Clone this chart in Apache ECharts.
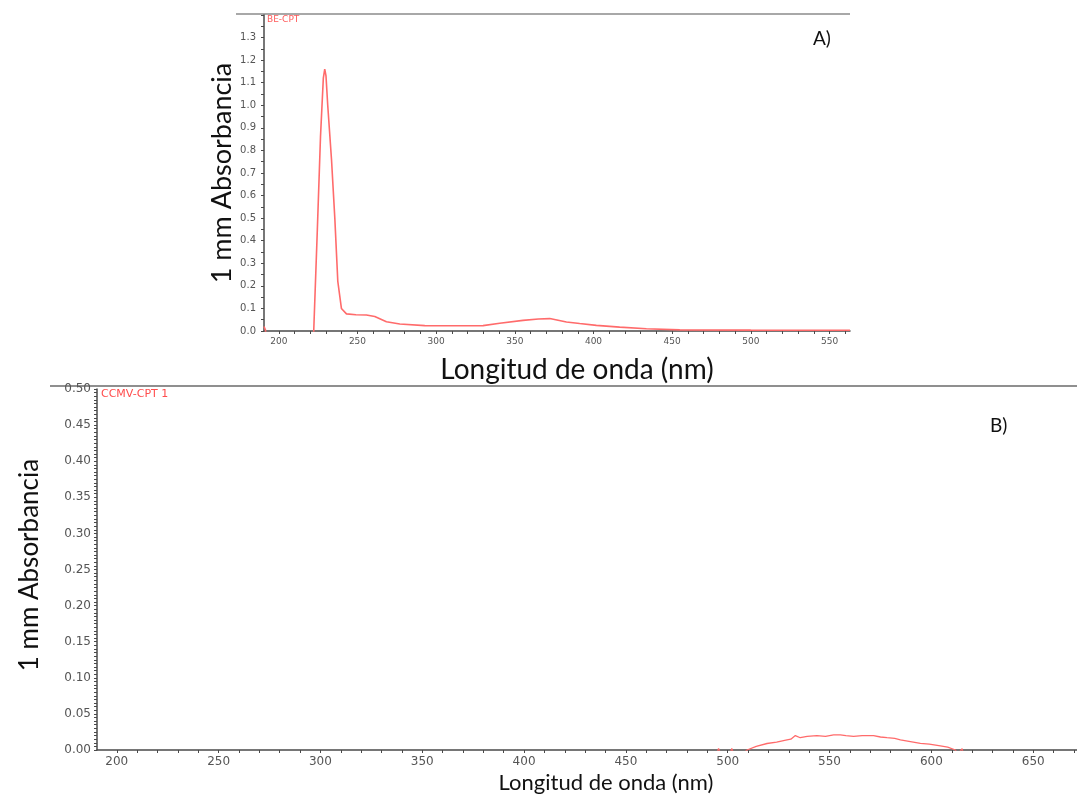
<!DOCTYPE html>
<html>
<head>
<meta charset="utf-8">
<script src="https://cdn.jsdelivr.net/npm/echarts@6/dist/echarts.min.js"></script>
<style>
  html, body { margin: 0; padding: 0; background: #fff; }
  #chart { width: 1077px; height: 795px; }
</style>
</head>
<body>
<div id="chart"></div>
<script>
// spectrum A (BE-CPT), wavelength in nm / absorbance
const wavelengthA = [190.6, 191.5, 192.5, 222.0, 222.2, 224.5, 226.5, 228.3, 229.2, 230.0, 231.1, 233.5, 235.6, 237.5, 239.8, 243.0,
  249.0, 255.7, 261.0, 268.4, 276.9, 292.8, 310.0, 329.8, 340.4, 355.2, 365.0, 372.2, 382.8, 391.2, 401.8, 416.6, 433.6, 454.8, 500.0, 563.0];
const absorbA = [0.02, 0.005, -0.05, -0.05, 0.0, 0.45, 0.86, 1.12, 1.16, 1.13, 1.0, 0.76, 0.5, 0.22, 0.10, 0.076,
  0.072, 0.071, 0.064, 0.041, 0.031, 0.024, 0.023, 0.024, 0.034, 0.047, 0.053, 0.055, 0.040, 0.033, 0.025, 0.017, 0.010, 0.005, 0.004, 0.003];

// spectrum B (CCMV-CPT 1)
const wavelengthB = [190.3, 494.0, 495.5, 497.0, 501.0, 502.0, 503.0, 508.0, 509.5, 514.0, 519.3, 524.0, 529.1, 531.0, 533.2, 535.6,
  539.0, 543.8, 548.0, 552.0, 555.3, 558.0, 561.8, 566.0, 571.6, 575.0, 578.2, 582.0, 584.8, 589.0, 594.6, 599.0, 604.4, 608.0,
  611.8, 613.0, 615.1, 616.0, 671.5];
const absorbB = [-0.02, -0.01, 0.002, -0.008, -0.006, 0.002, -0.006, -0.004, 0.0, 0.005, 0.009, 0.011, 0.014, 0.015, 0.020, 0.017,
  0.019, 0.020, 0.019, 0.021, 0.021, 0.020, 0.019, 0.020, 0.020, 0.018, 0.017, 0.016, 0.014, 0.012, 0.0093, 0.008, 0.0056, 0.004,
  0.0, -0.006, 0.002, -0.01, -0.02];

// tick labels
const xLabelsA = [200, 250, 300, 350, 400, 450, 500, 550];
const yLabelsA = [0, 0.1, 0.2, 0.3, 0.4, 0.5, 0.6, 0.7, 0.8, 0.9, 1.0, 1.1, 1.2, 1.3];
const xLabelsB = [200, 250, 300, 350, 400, 450, 500, 550, 600, 650];
const yLabelsB = [0, 0.05, 0.1, 0.15, 0.2, 0.25, 0.3, 0.35, 0.4, 0.45, 0.5];

const zip = (xs, ys) => xs.map((x, i) => [x, ys[i]]);
const steps = (a, b, s) => { const out = []; for (let v = a; v <= b + 1e-9; v += s) out.push(+v.toFixed(4)); return out; };

const axisColor = '#4a4a4a';
const labelColor = '#555';
const red = '#ff6b6b';

const chart = echarts.init(document.getElementById('chart'));
chart.setOption({
  backgroundColor: '#fff',
  animation: false,
  grid: [
    { left: 264, top: 15, right: 227, bottom: 464 },
    { left: 97, top: 389, right: 0, bottom: 45 }
  ],
  xAxis: [
    {
      gridIndex: 0, type: 'value', min: 190.6, max: 563,
      splitLine: { show: false },
      axisLine: { lineStyle: { color: axisColor, width: 1.5 } },
      axisTick: { length: 3, customValues: steps(200, 560, 10), lineStyle: { color: axisColor } },
      axisLabel: { customValues: xLabelsA, color: labelColor, fontSize: 9, fontFamily: 'DejaVu Sans', margin: 6 }
    },
    {
      gridIndex: 1, type: 'value', min: 190.3, max: 671.5,
      splitLine: { show: false },
      axisLine: { lineStyle: { color: axisColor, width: 1.5 } },
      axisTick: { length: 3, customValues: steps(200, 670, 10), lineStyle: { color: axisColor } },
      axisLabel: { customValues: xLabelsB, color: labelColor, fontSize: 12, fontFamily: 'DejaVu Sans', margin: 6 }
    }
  ],
  yAxis: [
    {
      gridIndex: 0, type: 'value', min: 0, max: 1.4,
      splitLine: { show: false },
      axisLine: { show: true, lineStyle: { color: axisColor, width: 1.5 } },
      axisTick: { show: true, length: 3, customValues: steps(0, 1.4, 0.05), lineStyle: { color: axisColor } },
      axisLabel: { customValues: yLabelsA, color: labelColor, fontSize: 10, fontFamily: 'DejaVu Sans', margin: 8,
        formatter: v => v.toFixed(1) }
    },
    {
      gridIndex: 1, type: 'value', min: 0, max: 0.5,
      splitLine: { show: false },
      axisLine: { show: true, lineStyle: { color: axisColor, width: 1.5 } },
      axisTick: { show: true, length: 3, customValues: steps(0, 0.5, 0.005), lineStyle: { color: axisColor } },
      axisLabel: { customValues: yLabelsB, color: labelColor, fontSize: 12, fontFamily: 'DejaVu Sans', margin: 6,
        formatter: v => v.toFixed(2) }
    }
  ],
  series: [
    {
      name: 'BE-CPT', type: 'line', xAxisIndex: 0, yAxisIndex: 0, symbol: 'none', clip: true,
      lineStyle: { color: red, width: 1.6 },
      data: zip(wavelengthA, absorbA)
    },
    {
      name: 'CCMV-CPT 1', type: 'line', xAxisIndex: 1, yAxisIndex: 1, symbol: 'none', clip: true,
      lineStyle: { color: red, width: 1.3 },
      data: zip(wavelengthB, absorbB)
    }
  ],
  graphic: [
    // window separators
    { type: 'line', shape: { x1: 236, y1: 14, x2: 850, y2: 14 }, style: { stroke: '#a8a8a8', lineWidth: 2 } },
    { type: 'line', shape: { x1: 50, y1: 386, x2: 1077, y2: 386 }, style: { stroke: '#8f8f8f', lineWidth: 2 } },
    // series tags
    { type: 'text', left: 267, top: 15, style: { text: 'BE-CPT', fill: '#ff5a5a', font: '9px "DejaVu Sans"' } },
    { type: 'text', left: 101, top: 389, style: { text: 'CCMV-CPT 1', fill: '#ff4d4d', font: '11px "DejaVu Sans"' } },
    // panel letters
    { type: 'text', left: 813, top: 29, style: { text: 'A)', fill: '#111', font: '19px Lato' } },
    { type: 'text', left: 990, top: 416, style: { text: 'B)', fill: '#111', font: '19px Lato' } },
    // axis titles
    { type: 'text', x: 577, y: 370, style: { text: 'Longitud de onda (nm)', fill: '#111', font: '28px Lato', align: 'center', verticalAlign: 'middle' } },
    { type: 'text', x: 222, y: 173, rotation: Math.PI / 2, style: { text: '1 mm Absorbancia', fill: '#111', font: '27px Lato', align: 'center', verticalAlign: 'middle' } },
    { type: 'text', x: 606, y: 783, style: { text: 'Longitud de onda (nm)', fill: '#111', font: '22px Lato', align: 'center', verticalAlign: 'middle' } },
    { type: 'text', x: 30, y: 565, rotation: Math.PI / 2, style: { text: '1 mm Absorbancia', fill: '#111', font: '26px Lato', align: 'center', verticalAlign: 'middle' } }
  ]
});
</script>
</body>
</html>
